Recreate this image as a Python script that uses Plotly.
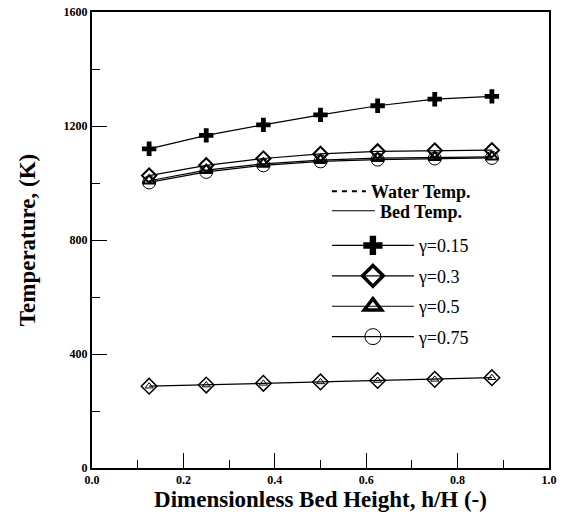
import plotly.graph_objects as go

# Data
h_over_H = [0.125, 0.25, 0.375, 0.5, 0.625, 0.75, 0.875]
bed_g015 = [1120, 1167, 1204, 1239, 1271, 1294, 1304]
bed_g03 = [1026, 1062, 1086, 1102, 1111, 1114, 1115]
bed_g05 = [1008, 1045, 1067, 1080, 1087, 1090, 1092]
bed_g075 = [1002, 1039, 1062, 1076, 1082, 1086, 1088]
water_temp = [287, 291, 297, 302, 307, 311, 317]

x_ticks = [0.0, 0.2, 0.4, 0.6, 0.8, 1.0]
x_tick_labels = ["0.0", "0.2", "0.4", "0.6", "0.8", "1.0"]
y_ticks = [0, 400, 800, 1200, 1600]
y_tick_labels = ["0", "400", "800", "1200", "1600"]
gamma_labels = ["γ=0.15", "γ=0.3", "γ=0.5", "γ=0.75"]

FONT = "Liberation Serif"
BLACK = "black"

fig = go.Figure()

# Water temperature (bottom curve)
fig.add_trace(go.Scatter(x=h_over_H, y=water_temp, mode="lines+markers",
                         line=dict(color=BLACK, width=1.2),
                         marker=dict(symbol="diamond-open", size=12, color=BLACK, line=dict(width=1.5)),
                         showlegend=False))
fig.add_trace(go.Scatter(x=h_over_H, y=water_temp, mode="markers",
                         marker=dict(symbol="triangle-up-open", size=7, color=BLACK, line=dict(width=1)),
                         showlegend=False))

# Bed temperature curves
series = [
    (bed_g015, "cross", 12, 0, 20, 0),
    (bed_g03, "diamond-open", 11, 2, 17, 3.5),
    (bed_g05, "triangle-up-open", 11, 2, 15, 3.5),
    (bed_g075, "circle-open", 13, 1, 17, 1),
]
for (vals, sym, size, lw, lsize, llw), name in zip(series, gamma_labels):
    fig.add_trace(go.Scatter(x=h_over_H, y=vals, mode="lines+markers",
                             line=dict(color=BLACK, width=1.2),
                             marker=dict(symbol=sym, size=size, color=BLACK, line=dict(width=lw, color=BLACK)),
                             showlegend=False))
    fig.add_trace(go.Scatter(x=[None], y=[None], mode="lines+markers",
                             line=dict(color=BLACK, width=1.2),
                             marker=dict(symbol=sym, size=lsize, color=BLACK, line=dict(width=llw, color=BLACK)),
                             name=name, legend="legend2", legendgroup=name))

# Legend-only entries for line styles
fig.add_trace(go.Scatter(x=[None], y=[None], mode="lines", name="<b>Water Temp.</b>",
                         line=dict(color=BLACK, width=2, dash="5px,5px"), legend="legend"))
fig.add_trace(go.Scatter(x=[None], y=[None], mode="lines", name="<b>Bed Temp.</b>",
                         line=dict(color=BLACK, width=1), legend="legend3"))

leg_common = dict(xanchor="left", yanchor="top", bgcolor="rgba(0,0,0,0)",
                  font=dict(family=FONT, size=18, color=BLACK))

fig.update_layout(
    width=565, height=520,
    margin=dict(l=92, r=16, t=12, b=52),
    paper_bgcolor="white", plot_bgcolor="white",
    font=dict(family=FONT, color=BLACK),
    legend=dict(x=0.514, y=0.647, itemwidth=34, **leg_common),
    legend3=dict(x=0.514, y=0.604, itemwidth=43, **leg_common),
    legend2=dict(x=0.514, y=0.528, itemwidth=82, tracegroupgap=4, itemsizing="trace", **leg_common),
)

fig.update_xaxes(
    range=[0, 1], tickmode="array", tickvals=x_ticks, ticktext=x_tick_labels,
    ticks="inside", ticklen=15, tickwidth=1, tickcolor=BLACK,
    minor=dict(dtick=0.1, ticks="inside", ticklen=8, tickwidth=1, tickcolor=BLACK),
    showline=True, linewidth=2, linecolor=BLACK, mirror=True,
    showgrid=False, zeroline=False, automargin=False,
    tickfont=dict(family=FONT, size=12, color=BLACK, weight="bold"),
    title=dict(text="<b>Dimensionless Bed Height, h/H (-)</b>",
               font=dict(family=FONT, size=23, color=BLACK), standoff=3),
)
fig.update_yaxes(
    range=[0, 1600], tickmode="array", tickvals=y_ticks, ticktext=y_tick_labels,
    ticks="inside", ticklen=15, tickwidth=1, tickcolor=BLACK,
    minor=dict(dtick=200, ticks="inside", ticklen=8, tickwidth=1, tickcolor=BLACK),
    showline=True, linewidth=2, linecolor=BLACK, mirror=True,
    showgrid=False, zeroline=False, automargin=False,
    tickfont=dict(family=FONT, size=12, color=BLACK, weight="bold"),
    title=dict(text="<b>Temperature, (K)</b>",
               font=dict(family=FONT, size=23, color=BLACK), standoff=22),
)

fig.write_html("out.html", config={"displayModeBar": False},
               post_script="document.body.style.margin='0px';")
